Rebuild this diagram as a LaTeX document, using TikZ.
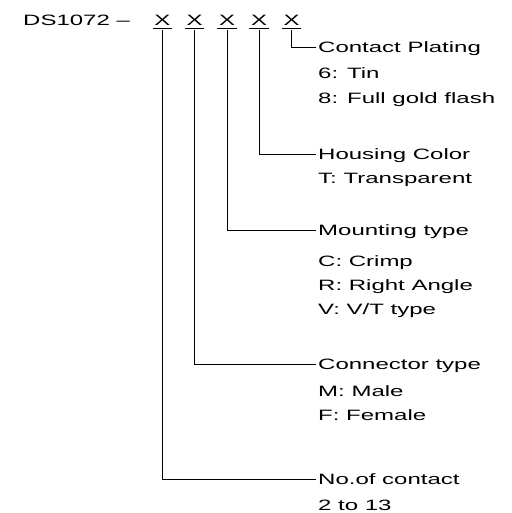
\documentclass[tikz,border=0pt]{standalone}
\usepackage{fontspec}
\setmainfont{Liberation Sans}[FakeStretch=1.6]
\begin{document}
\begin{tikzpicture}[x=1pt,y=-1pt,
  every node/.style={inner sep=0pt,font=\fontsize{15}{18}\selectfont},
  code/.style={anchor=base,inner xsep=1.5pt,text height=10.7pt,text depth=0pt},
  head/.style={anchor=west,text height=10.7pt,text depth=0pt},
  opt/.style={anchor=base west},
  wire/.style={line width=0.8pt,black}]
\useasboundingbox (0,0) rectangle (511,513);
\node[opt] (pre) at (23,26) {DS1072 –};
\foreach \i/\x in {1/162.5,2/194.5,3/227,4/259,5/291.5}{
  \node[code] (x\i) at (\x,26) {X};
  \draw[wire] ([yshift=-2.5pt]x\i.south west) -- ([yshift=-2.5pt]x\i.south east);
}
% headings
\node[head] (h5) at (318,47.5) {Contact Plating};
\node[opt] at (318,79) {6: Tin};
\node[opt] at (318,104) {8: Full gold flash};
\node[head] (h4) at (318,154) {Housing Color};
\node[opt] at (318,183) {T: Transparent};
\node[head] (h3) at (318,230.5) {Mounting type};
\node[opt] at (318,266) {C: Crimp};
\node[opt] at (318,290) {R: Right Angle};
\node[opt] at (318,314) {V: V/T type};
\node[head] (h2) at (318,364.5) {Connector type};
\node[opt] at (318,396) {M: Male};
\node[opt] at (318,420) {F: Female};
\node[head] (h1) at (318,479.5) {No.of contact};
\node[opt] at (318,510) {2 to 13};
\foreach \i in {1,...,5}{
  \draw[wire] ([yshift=-4pt]x\i.south) |- ([xshift=-2pt]h\i.west);
}
\end{tikzpicture}
\end{document}
